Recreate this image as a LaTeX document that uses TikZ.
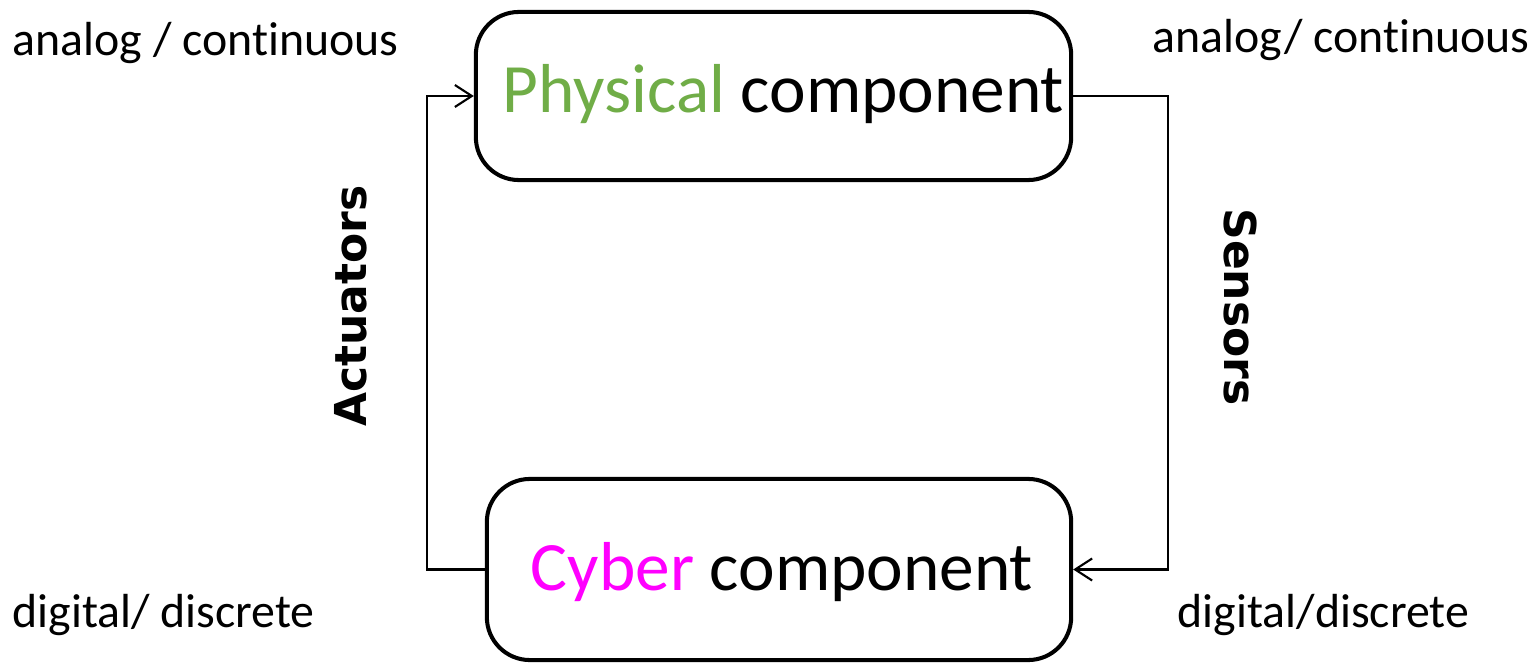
\documentclass[tikz,border=0pt]{standalone}
\usepackage{fontspec}
\setmainfont{Carlito}[Ligatures={NoCommon}]
\newfontfamily\labelfont{DejaVu Sans}
\usepackage{xcolor}
\usetikzlibrary{arrows.meta,positioning}
\definecolor{ink}{HTML}{000000}
\definecolor{physgreen}{HTML}{70AD47}
\definecolor{cybermag}{HTML}{FF00FF}
\tikzset{
  >={Straight Barb[length=1.7mm,width=2.2mm]},
  compbox/.style={draw=ink,rounded corners=4.3mm,line width=1.15pt,fill=white,
    font=\fontsize{19.7}{22}\selectfont,inner sep=0pt},
  flow/.style={->,line width=.6pt,color=ink},
  sidetext/.style={font=\fontsize{13.6}{16}\selectfont,anchor=base west,inner sep=0pt},
  portlabel/.style={font=\labelfont\bfseries\fontsize{12.5}{15}\selectfont,inner sep=0pt},
}

\begin{document}
\begin{tikzpicture}[x=.01cm,y=-.01cm]
  \useasboundingbox (0,0) rectangle (1537,664);

  % the two components
  \node[compbox,minimum width=5.95cm,minimum height=1.68cm,
    text height=.46cm,text depth=.14cm] (phys) at (773.5,96)
    {\hspace*{.2cm}\textcolor{physgreen}{Physical} component};
  \node[compbox,minimum width=5.84cm,minimum height=1.81cm,
    text height=.52cm,text depth=.11cm] (cyber) at (779,569.5)
    {\hspace*{.06cm}\textcolor{cybermag}{Cyber} component};

  % turning points of the loop
  \coordinate (actx) at (427,300);
  \coordinate (sensx) at (1168,300);

  \draw[flow] (cyber.west) -- (cyber.west -| actx) |- (phys.west);
  \draw[flow] (phys.east) -- (phys.east -| sensx) |- (cyber.east);

  \node[portlabel,rotate=90] (act) at (351,306) {Actuators};
  \node[portlabel,rotate=-90] (sens) at (1240,307) {Sensors};

  % signal kinds
  \node[sidetext] (analogl) at (12,56) {analog / continuous};
  \node[sidetext] (analogr) at (1152,53) {analog/ continuous};
  \node[sidetext] (digitl) at (12,627) {digital/ discrete};
  \node[sidetext] (digitr) at (1177,627) {digital/discrete};
\end{tikzpicture}
\end{document}
